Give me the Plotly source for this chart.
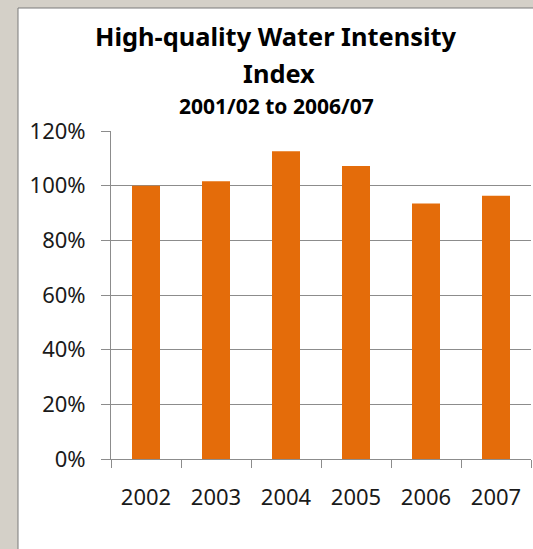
import plotly.graph_objects as go

years = ["2002", "2003", "2004", "2005", "2006", "2007"]
index_values = [1.00, 1.016, 1.126, 1.072, 0.935, 0.963]
y_tick_vals = [0, 0.2, 0.4, 0.6, 0.8, 1.0, 1.2]
y_tick_text = ["0%", "20%", "40%", "60%", "80%", "100%", "120%"]

W, H = 533, 549
L, R, T, B = 111, 2, 131, 90
pw, ph = W - L - R, H - T - B

def px(x):
    return (x - L) / pw

def py(y):
    return (H - B - y) / ph

FONT = "Noto Sans"

fig = go.Figure()
fig.add_trace(go.Bar(
    x=years, y=index_values,
    marker=dict(color="#E46C0A", line=dict(width=0)),
    hoverinfo="skip",
))

fig.update_layout(
    width=W, height=H,
    margin=dict(l=L, r=R, t=T, b=B, pad=0),
    paper_bgcolor="#D4D0C8",
    plot_bgcolor="rgba(0,0,0,0)",
    showlegend=False,
    bargap=0.6,
    font=dict(family=FONT, color="#000000"),
    shapes=[
        dict(type="rect", xref="paper", yref="paper", layer="below",
             x0=px(18), x1=px(540), y0=py(560), y1=py(8),
             fillcolor="#FFFFFF", line=dict(color="#7A7A7A", width=1)),
    ],
    annotations=[
        dict(text="<b>High-quality Water Intensity</b>", xref="paper", yref="paper",
             x=px(276), y=py(36), showarrow=False, xanchor="center", yanchor="middle",
             font=dict(size=25.4, family=FONT, color="#000000")),
        dict(text="<b>Index</b>", xref="paper", yref="paper",
             x=px(279), y=py(73), showarrow=False, xanchor="center", yanchor="middle",
             font=dict(size=25.4, family=FONT, color="#000000")),
        dict(text="<b>2001/02 to 2006/07</b>", xref="paper", yref="paper",
             x=px(276), y=py(106), showarrow=False, xanchor="center", yanchor="middle",
             font=dict(size=21, family=FONT, color="#000000")),
    ],
)

fig.update_yaxes(
    range=[0, 1.2], tickvals=y_tick_vals, ticktext=y_tick_text,
    showgrid=True, gridcolor="#8C8C8C", gridwidth=1,
    showline=True, linecolor="#8C8C8C", linewidth=1,
    ticks="outside", ticklen=9, tickcolor="#8C8C8C",
    tickfont=dict(size=22, family=FONT, color="#1a1a1a"),
    ticklabelstandoff=11, zeroline=False, fixedrange=True,
)
fig.update_xaxes(
    showline=True, linecolor="#8C8C8C", linewidth=1,
    ticks="outside", ticklen=8, tickcolor="#8C8C8C", tickson="boundaries",
    tickfont=dict(size=22, family=FONT, color="#1a1a1a"),
    ticklabelstandoff=19, showgrid=False, fixedrange=True,
)

fig.write_html(
    "out.html",
    config={"displayModeBar": False, "staticPlot": True},
    post_script="document.body.style.margin='0';document.body.style.background='#D4D0C8';document.body.style.overflow='hidden';",
)
